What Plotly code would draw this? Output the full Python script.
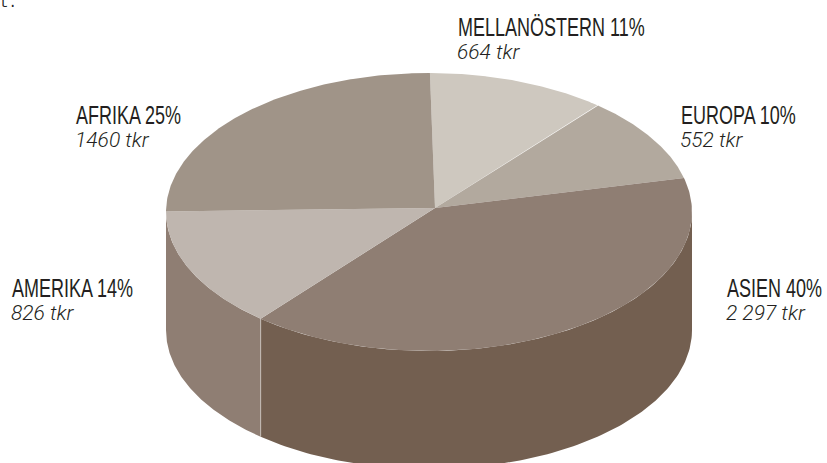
import numpy as np
import plotly.graph_objects as go

regions = ["MELLANÖSTERN", "EUROPA", "ASIEN", "AMERIKA", "AFRIKA"]
percents = [11, 10, 40, 14, 25]
amount_labels = ["664 tkr", "552 tkr", "2 297 tkr", "826 tkr", "1460 tkr"]
top_colors = ["#cec8bf", "#b2a99e", "#8f7e73", "#bfb6af", "#a09488"]
side_colors = ["#cec8bf", "#b2a99e", "#735f50", "#8f7e73", "#a09488"]
label_xy = [(456, 27), (679, 115), (725, 288), (10, 288), (74, 115)]

W, H = 827, 463
CX, CY, RX, RY, DEPTH = 429, 212, 263, 139, 118
AX, AY = 435, 208
START = np.radians(0.2)

def rim(t, dy=0):
    return CX + RX * np.sin(t), CY + dy - RY * np.cos(t)

fig = go.Figure()
fractions = np.array(percents, dtype=float) / sum(percents)
edges = START + 2 * np.pi * np.concatenate([[0], np.cumsum(fractions)])

# side walls: only the front half of the rim (pi/2 .. 3pi/2) is visible
for i in range(len(percents)):
    a, b = max(edges[i], np.pi / 2), min(edges[i + 1], 3 * np.pi / 2)
    if b <= a:
        continue
    t = np.linspace(a, b, 120)
    x1, y1 = rim(t)
    x2, y2 = rim(t[::-1], DEPTH)
    fig.add_trace(go.Scatter(x=np.r_[x1, x2], y=np.r_[y1, y2], fill="toself", mode="lines",
                             fillcolor=side_colors[i], line=dict(width=0), hoverinfo="skip", showlegend=False))

# divider on the side wall
xd, yd = rim(edges[3])
fig.add_trace(go.Scatter(x=[xd, xd], y=[yd, yd + DEPTH], mode="lines", line=dict(color="#c4bcb5", width=1),
                         hoverinfo="skip", showlegend=False))

# top face slices
for i in range(len(percents)):
    t = np.linspace(edges[i], edges[i + 1], 160)
    x, y = rim(t)
    fig.add_trace(go.Scatter(x=np.r_[AX, x, AX], y=np.r_[AY, y, AY], fill="toself", mode="lines",
                             fillcolor=top_colors[i], line=dict(width=0), name=regions[i],
                             text=amount_labels[i], hoverinfo="name+text", showlegend=False))

for i, (x, y) in enumerate(label_xy):
    fig.add_annotation(x=x, y=y, text=f"{regions[i]} {percents[i]}%", showarrow=False, xanchor="left", yanchor="middle",
                       font=dict(family="Liberation Sans", size=25, color="#231f20"))
    fig.add_annotation(x=x - 1, y=y + 25, text=f"<i>{amount_labels[i]}</i>", showarrow=False, xanchor="left", yanchor="middle",
                       font=dict(family="Roboto", size=21, color="#231f20", weight=300))

fig.add_annotation(x=0, y=3, text="t.", showarrow=False, xanchor="left", yanchor="middle", xshift=-2,
                   font=dict(family="Liberation Mono", size=14, color="#222222"))

fig.update_layout(width=W, height=H, margin=dict(l=0, r=0, t=0, b=0), plot_bgcolor="white", paper_bgcolor="white",
                  xaxis=dict(range=[0, W], visible=False, fixedrange=True),
                  yaxis=dict(range=[H, 0], visible=False, fixedrange=True))

post = """
document.body.style.margin = '0';
document.body.style.overflow = 'hidden';
function narrow() {
  document.querySelectorAll('text.annotation-text').forEach(function (el) {
    if (el.textContent.indexOf('%') < 0 || el.dataset.narrowed) return;
    var b = el.getBBox();
    el.setAttribute('transform', 'translate(' + b.x + ',0) scale(0.72,1) translate(' + (-b.x) + ',0)');
    el.dataset.narrowed = '1';
  });
}
narrow();
setTimeout(narrow, 0);
setTimeout(narrow, 100);
"""
fig.write_html("out.html", post_script=post, config={"displayModeBar": False})
